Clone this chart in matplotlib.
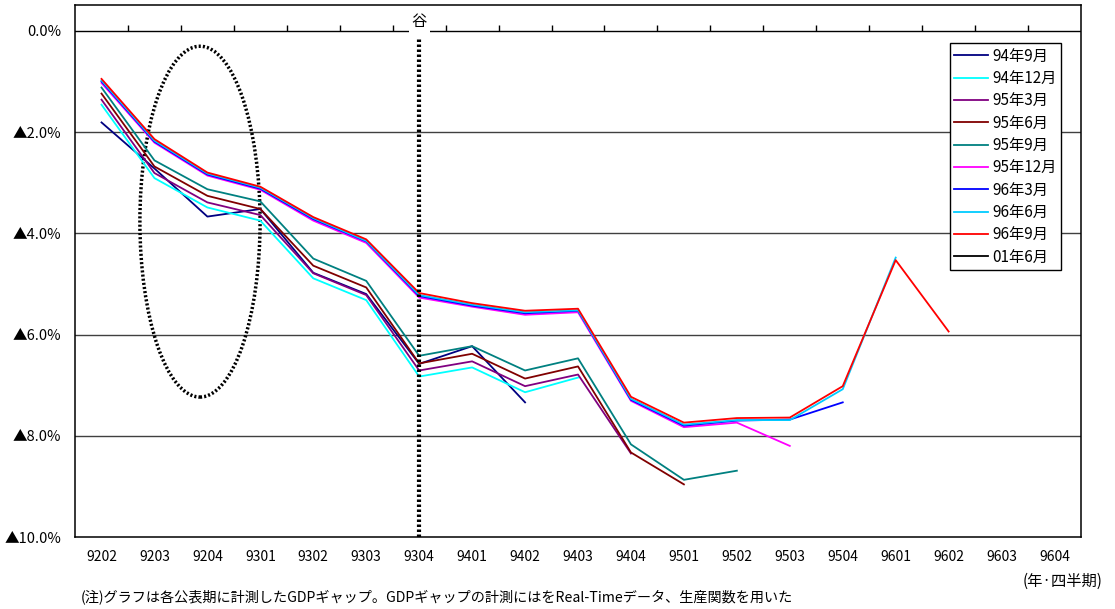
import numpy as np
import matplotlib.pyplot as plt
from matplotlib.patches import Ellipse

plt.rcParams['font.family'] = ['Noto Sans CJK JP', 'DejaVu Sans']

nan = np.nan

quarters = ['9202', '9203', '9204', '9301', '9302', '9303', '9304', '9401', '9402', '9403',
            '9404', '9501', '9502', '9503', '9504', '9601', '9602', '9603', '9604']

vintages = ['94年9月', '94年12月', '95年3月', '95年6月', '95年9月',
            '95年12月', '96年3月', '96年6月', '96年9月', '01年6月']
colors = ['#000080', '#00FFFF', '#800080', '#800000', '#008080',
          '#FF00FF', '#0000FF', '#00CCFF', '#FF0000', '#000000']

# GDPギャップ(%)  公表期ごと
gap_9409 = [-1.81, -2.72, -3.67, -3.52, -4.78, -5.20, -6.58, -6.23, -7.34]
gap_9412 = [-1.46, -2.91, -3.49, -3.75, -4.89, -5.32, -6.83, -6.65, -7.14, -6.85]
gap_9503 = [-1.36, -2.81, -3.39, -3.64, -4.79, -5.22, -6.71, -6.53, -7.02, -6.79, -8.35]
gap_9506 = [-1.24, -2.68, -3.26, -3.52, -4.64, -5.07, -6.57, -6.38, -6.87, -6.63, -8.33, -8.96]
gap_9509 = [-1.12, -2.56, -3.13, -3.37, -4.50, -4.94, -6.42, -6.23, -6.71, -6.47, -8.17, -8.87,
            -8.69]
gap_9512 = [-1.03, -2.21, -2.86, -3.14, -3.75, -4.19, -5.27, -5.45, -5.61, -5.56, -7.31, -7.83,
            -7.74, -8.20]
gap_9603 = [-1.00, -2.19, -2.84, -3.12, -3.72, -4.16, -5.24, -5.43, -5.58, -5.53, -7.29, -7.80,
            -7.70, -7.68, -7.34]
gap_9606 = [-0.98, -2.17, -2.82, -3.10, -3.70, -4.15, -5.22, -5.41, -5.56, -5.52, -7.27, -7.78,
            -7.69, -7.69, -7.08, -4.48]
gap_9609 = [-0.95, -2.14, -2.80, -3.08, -3.68, -4.12, -5.18, -5.38, -5.53, -5.49, -7.23, -7.74,
            -7.65, -7.64, -7.02, -4.53, -5.94]
gap_0106 = []

series = [gap_9409, gap_9412, gap_9503, gap_9506, gap_9509,
          gap_9512, gap_9603, gap_9606, gap_9609, gap_0106]

trough = '9304'
yticks = [0, -2, -4, -6, -8, -10]
ytick_labels = ['0.0%', '▲2.0%', '▲4.0%', '▲6.0%', '▲8.0%', '▲10.0%']

fig = plt.figure(figsize=(11.15, 6.09), dpi=100)
ax = fig.add_axes([0.0673, 0.1182, 0.9022, 0.8736])

x = np.arange(len(quarters))
for name, vals, c in zip(vintages, series, colors):
    y = np.full(len(quarters), nan)
    y[:len(vals)] = vals
    ax.plot(x, y, color=c, lw=1.3, label=name)

ax.set_xlim(-0.5, len(quarters) - 0.5)
ax.set_ylim(-10, 0.51)

# gridlines and category axis at 0
for v in yticks[1:-1]:
    ax.axhline(v, color='#404040', lw=1.0, zorder=0)
ax.axhline(0, color='black', lw=1.0, zorder=0)
ax.vlines(x[:-1] + 0.5, 0, 0.12, color='black', lw=1.0)

ax.set_yticks(yticks)
ax.set_yticklabels(ytick_labels, fontsize=10.5)
ax.set_xticks(x)
ax.set_xticklabels(quarters, fontsize=10)
ax.tick_params(axis='x', length=0, pad=9)
ax.tick_params(axis='y', length=0, pad=10)
for s in ax.spines.values():
    s.set_linewidth(1.1)
    s.set_color('black')

# 景気の谷
ti = quarters.index(trough)
ax.vlines(ti, -10, -0.14, color='black', lw=3, linestyles=(0, (0.6, 0.6)))
ax.text(ti, 0.18, '谷', ha='center', va='center', fontsize=11,
        bbox=dict(facecolor='white', edgecolor='none', pad=2))

ax.add_patch(Ellipse((1.86, -3.77), 2.27, 6.93, fill=False, edgecolor='black',
                     lw=2.5, linestyle=(0, (0.6, 0.6))))

leg = ax.legend(loc='upper right', bbox_to_anchor=(0.980, 0.9286), fontsize=11,
                frameon=True, fancybox=False, framealpha=1, edgecolor='black',
                handlelength=2.2, handletextpad=0.25, labelspacing=0.35,
                borderpad=0.3, borderaxespad=0)
leg.get_frame().set_linewidth(1.0)

fig.text(0.9534, 0.046, '(年·四半期)', ha='center', va='center', fontsize=11)
fig.text(0.072, 0.02, '(注)グラフは各公表期に計測したGDPギャップ。GDPギャップの計測にはをReal-Timeデータ、生産関数を用いた',
         ha='left', va='center', fontsize=10.2)

fig.savefig('out.png', dpi=100)
